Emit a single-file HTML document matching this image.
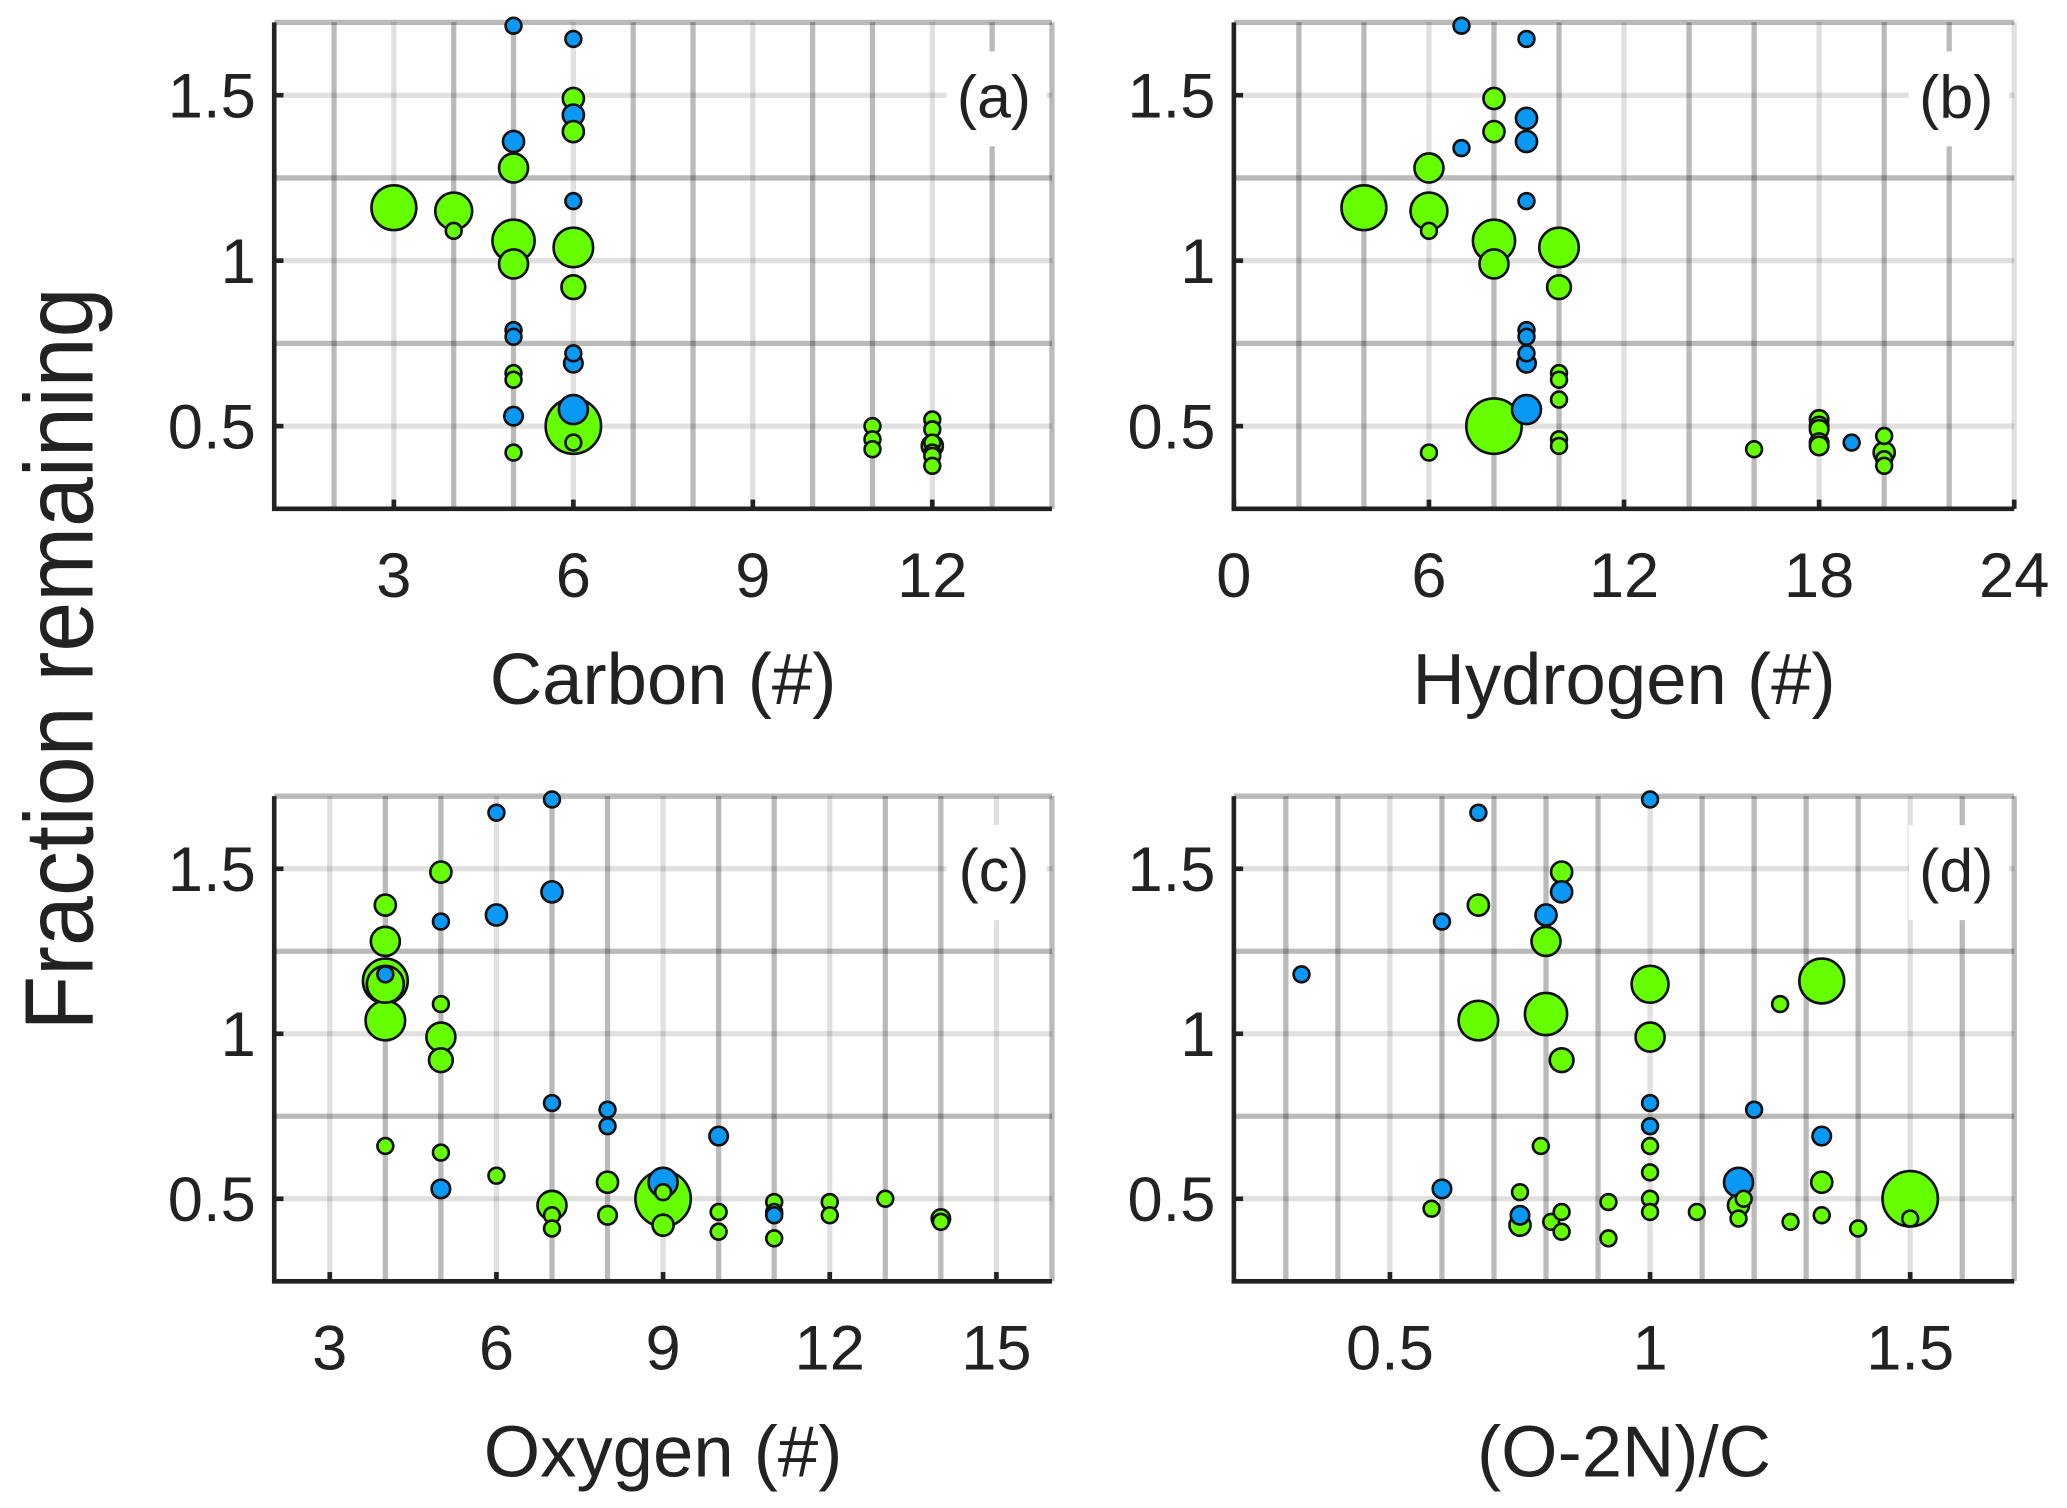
<!DOCTYPE html>
<html><head><meta charset="utf-8"><style>
html,body{margin:0;padding:0;background:#fff;}
svg{display:block;font-family:"Liberation Sans",Arial,sans-serif;}
</style></head><body>
<svg id="fig" width="2067" height="1508" viewBox="0 0 1568 1144" xmlns="http://www.w3.org/2000/svg">
<text x="0" y="0" transform="translate(70,500) rotate(-90) scale(0.92,1)" text-anchor="middle" font-size="74" fill="#222">Fraction remaining</text>
</svg>
<script>
// Panel (a) Carbon
const aX=[3,4,4,5,5,5,5,5,5,5,5,5,5,5,6,6,6,6,6,6,6,6,6,6,6,6,11,11,11,12,12,12,12,12,12,12];
const aY=[1.16,1.15,1.09,1.71,1.36,1.28,1.06,0.99,0.79,0.77,0.66,0.64,0.53,0.42,1.67,1.49,1.44,1.39,1.18,1.04,0.92,0.72,0.69,0.50,0.55,0.45,0.50,0.46,0.43,0.52,0.49,0.45,0.44,0.42,0.41,0.38];
const aS=[17,14,6,6,8,11,16,11,6,6,6,6,7,6,6,8,8,8,6,15,9,6,7,21,11,6,6,6,6,6,6,6,8,6,6,6];
const aC="gggbbgggbbggbgbgbgbggbbgbggggggggggg";
// Panel (b) Hydrogen
const bX=[4,6,6,6,6,7,7,8,8,8,8,8,9,9,9,9,9,9,9,9,9,10,10,10,10,10,10,10,16,18,18,18,18,18,19,20,20,20,20];
const bY=[1.16,1.28,1.15,1.09,0.42,1.71,1.34,1.49,1.39,1.06,0.99,0.50,1.67,1.43,1.36,1.18,0.79,0.77,0.72,0.69,0.55,1.04,0.92,0.66,0.64,0.58,0.46,0.44,0.43,0.52,0.50,0.49,0.45,0.44,0.45,0.47,0.42,0.40,0.38];
const bS=[17,11,14,6,6,6,6,8,8,16,11,21,6,8,8,6,6,6,6,7,11,15,9,6,6,6,6,6,6,7,7,7,7,7,6,6,8,6,6];
const bC="gggggbbgggggbbbbbbbbbgggggggggggggbgggg";
// Panel (c) Oxygen
const cX=[4,4,4,4,4,4,4,5,5,5,5,5,5,5,6,6,6,7,7,7,7,7,7,8,8,8,8,9,9,9,9,10,10,10,11,11,11,11,12,12,13,14,14];
const cY=[1.39,1.28,1.16,1.15,1.18,1.04,0.66,1.49,1.34,1.09,0.99,0.92,0.64,0.53,1.67,1.36,0.57,1.71,1.43,0.79,0.48,0.45,0.41,0.77,0.72,0.55,0.45,0.50,0.55,0.52,0.42,0.69,0.46,0.40,0.49,0.46,0.45,0.38,0.49,0.45,0.50,0.44,0.43];
const cS=[8,11,17,14,6,15,6,8,6,6,11,9,6,7,6,8,6,6,8,6,11,6,6,6,6,8,7,21,11,6,8,7,6,6,6,6,6,6,6,6,6,7,6];
const cC="ggggbgggbggggbbbgbbbgggbbgggbggbggggbgggggg";
// Panel (d) (O-2N)/C
const dX=[0.33,0.58,0.60,0.60,0.67,0.67,0.67,0.75,0.75,0.75,0.79,0.80,0.80,0.80,0.81,0.83,0.83,0.83,0.83,0.83,0.92,0.92,1.0,1.0,1.0,1.0,1.0,1.0,1.0,1.0,1.0,1.09,1.17,1.17,1.17,1.18,1.20,1.25,1.27,1.33,1.33,1.33,1.33,1.40,1.50,1.50];
const dY=[1.18,0.47,1.34,0.53,1.67,1.39,1.04,0.52,0.45,0.42,0.66,1.36,1.28,1.06,0.43,1.49,1.43,0.92,0.46,0.40,0.49,0.38,1.71,1.15,0.99,0.79,0.72,0.66,0.58,0.50,0.46,0.46,0.55,0.48,0.44,0.50,0.77,1.09,0.43,1.16,0.69,0.55,0.45,0.41,0.50,0.44];
const dS=[6,6,6,7,6,8,15,6,7,8,6,8,11,16,6,8,8,9,6,6,6,6,6,14,11,6,6,6,6,6,6,6,11,8,6,6,6,6,6,17,7,8,6,6,21,6];
const dC="bgbb"+"bgg"+"gbg"+"g"+"bgg"+"g"+"gbggg"+"gg"+"bggbbgggg"+"g"+"bgg"+"g"+"b"+"g"+"g"+"gbgg"+"g"+"gg";
const yTicks=[0.5,1,1.5];
const yTickLabels=["0.5","1","1.5"];

const NS="http://www.w3.org/2000/svg";
const svg=document.getElementById('fig');
function mk(tag,attrs,parent){const e=document.createElementNS(NS,tag);for(const k in attrs)e.setAttribute(k,attrs[k]);(parent||svg).appendChild(e);return e;}

const panels=[
 {id:'a',L:208,R:798,T:17,B:386,xmin:1,xmax:14,minor:[2,3,4,5,6,7,8,9,10,11,12,13,14],ticks:[3,6,9,12],tl:["3","6","9","12"],xl:"Carbon (#)",X:aX,Y:aY,S:aS,C:aC},
 {id:'b',L:936,R:1528,T:17,B:386,xmin:0,xmax:24,minor:[2,4,6,8,10,12,14,16,18,20,22,24],ticks:[0,6,12,18,24],tl:["0","6","12","18","24"],xl:"Hydrogen (#)",X:bX,Y:bY,S:bS,C:bC},
 {id:'c',L:208,R:798,T:604,B:972,xmin:2,xmax:16,minor:[3,4,5,6,7,8,9,10,11,12,13,14,15,16],ticks:[3,6,9,12,15],tl:["3","6","9","12","15"],xl:"Oxygen (#)",X:cX,Y:cY,S:cS,C:cC},
 {id:'d',L:936,R:1528,T:604,B:972,xmin:0.2,xmax:1.7,minor:[0.3,0.4,0.5,0.6,0.7,0.8,0.9,1.0,1.1,1.2,1.3,1.4,1.5,1.6,1.7],ticks:[0.5,1,1.5],tl:["0.5","1","1.5"],xl:"(O-2N)/C",X:dX,Y:dY,S:dS,C:dC}
];
const ymin=0.25,ymax=1.72;
panels.forEach(p=>{
 const g=mk('g',{});
 
 
 const sx=v=>p.L+(v-p.xmin)/(p.xmax-p.xmin)*(p.R-p.L);
 const sy=v=>p.B-(v-ymin)/(ymax-ymin)*(p.B-p.T);
 p.minor.forEach(v=>{
  const isTick=p.ticks.some(t=>Math.abs(t-v)<1e-6);
  const l=mk('line',{x1:sx(v),x2:sx(v),y1:p.T,y2:p.B,stroke:isTick?'rgba(0,0,0,0.12)':'rgba(0,0,0,0.27)','stroke-width':4},g);
  
  
 });
 [0.5,0.75,1,1.25,1.5,ymax].forEach(v=>{
  const isTick=yTicks.includes(v);
  const l=mk('line',{x1:p.L,x2:p.R,y1:sy(v),y2:sy(v),stroke:isTick?'rgba(0,0,0,0.12)':'rgba(0,0,0,0.27)','stroke-width':4},g);
  
  
 });
 const bx=mk('rect',{x:p.R-80,y:p.T+22,width:76,height:72,fill:'#fff'},g);
 
 
 const lab=mk('text',{x:p.R-44,y:p.T+72,'text-anchor':'middle','font-size':46,fill:'#222'},g);
 lab.textContent='('+p.id+')';
 
 
 const idx=p.X.map((_,i)=>i).sort((i,j)=>p.S[j]-p.S[i]);
 idx.forEach(i=>{
  const c=mk('circle',{cx:sx(p.X[i]),cy:sy(p.Y[i]),r:p.S[i],fill:p.C[i]==='b'?'#0a98f5':'#66ff00',stroke:'#111','stroke-width':2},g);
  
  
 });
 const ax=mk('path',{d:`M${p.L},${p.T} L${p.L},${p.B} L${p.R},${p.B}`,fill:'none',stroke:'#222','stroke-width':3.5},g);
 
 
 p.ticks.forEach((t,k)=>{
  const tk=mk('line',{x1:sx(t),x2:sx(t),y1:p.B,y2:p.B-7,stroke:'#222','stroke-width':3.5},g);
  
  
  const tx=mk('text',{x:sx(t),y:p.B+67,'text-anchor':'middle','font-size':48,fill:'#222'},g);
  tx.textContent=p.tl[k];
  
  
 });
 yTicks.forEach((t,k)=>{
  const tk=mk('line',{x1:p.L,x2:p.L+7,y1:sy(t),y2:sy(t),stroke:'#222','stroke-width':3.5},g);
  
  
  const tx=mk('text',{x:p.L-14,y:sy(t)+17,'text-anchor':'end','font-size':48,fill:'#222'},g);
  tx.textContent=yTickLabels[k];
  
  
 });
 const xt=mk('text',{x:(p.L+p.R)/2,y:p.B+148,'text-anchor':'middle','font-size':55,fill:'#222'},g);
 xt.textContent=p.xl;
 
 
});
</script>
</body></html>
